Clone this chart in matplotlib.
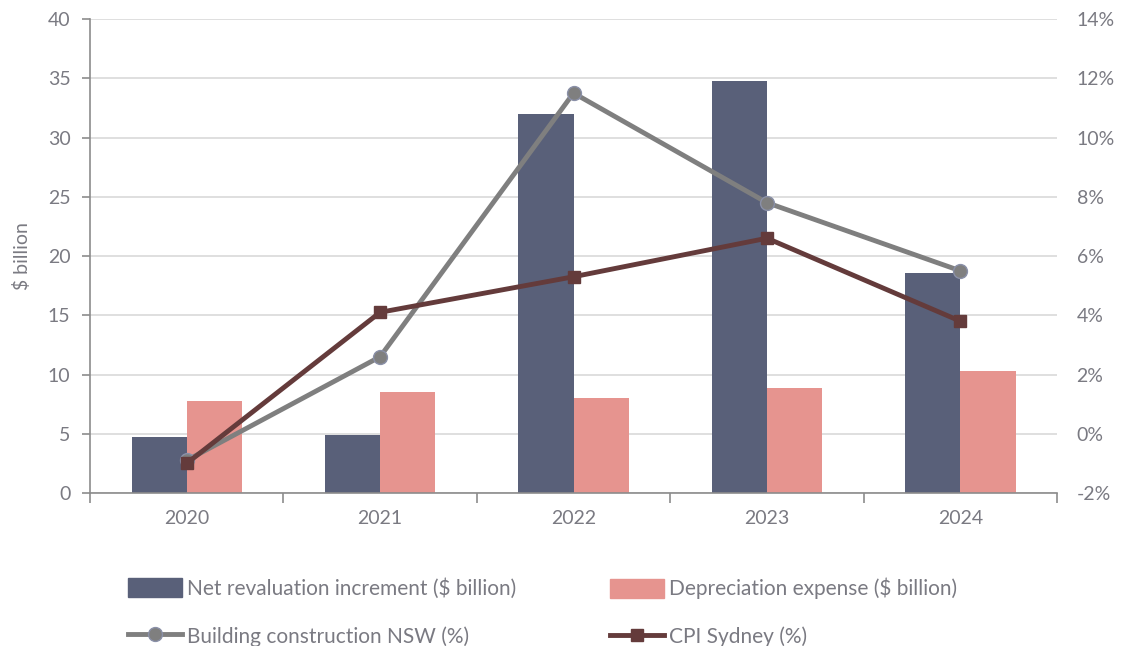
import matplotlib.pyplot as plt
import numpy as np
from matplotlib.lines import Line2D
from matplotlib.patches import Patch

plt.rcParams['font.family'] = ['Lato', 'DejaVu Sans']

years = ["2020", "2021", "2022", "2023", "2024"]
net_revaluation = [4.7, 4.9, 32.0, 34.8, 18.6]
depreciation = [7.8, 8.5, 8.0, 8.9, 10.3]
building_nsw = [-0.9, 2.6, 11.5, 7.8, 5.5]
cpi_sydney = [-1.0, 4.1, 5.3, 6.6, 3.8]

c_net = "#596079"
c_dep = "#e6948f"
c_bld = "#7f7f7f"
c_cpi = "#643b3b"
c_txt = "#7a7a82"
c_axis = "#8c8c8c"

fig = plt.figure(figsize=(11.33, 6.46), dpi=100)
ax = fig.add_axes([0.0794, 0.2368, 0.8536, 0.7338])
x = np.arange(len(years))
w = 0.285

ax.bar(x - w / 2, net_revaluation, w, color=c_net, zorder=2)
ax.bar(x + w / 2, depreciation, w, color=c_dep, zorder=2)

ax.set_xlim(-0.5, len(years) - 0.5)
ax.set_ylim(0, 40)
ax.set_yticks(range(0, 41, 5))
ax.grid(axis='y', color="#d9d9d9", linewidth=1.2, zorder=0)
ax.set_axisbelow(True)
ax.set_xticks(x)
ax.set_xticklabels(years)
ax.tick_params(axis='x', length=0, pad=12, labelsize=14, labelcolor=c_txt)
ax.set_xticks(np.arange(-0.5, len(years), 1), minor=True)
ax.tick_params(axis='x', which='minor', length=7, color=c_axis, width=1.2)
ax.tick_params(axis='y', length=6, color=c_axis, width=1.2, labelsize=14,
               labelcolor=c_txt, pad=8)
for s in ['top', 'right']:
    ax.spines[s].set_visible(False)
for s in ['left', 'bottom']:
    ax.spines[s].set_color(c_axis)
    ax.spines[s].set_linewidth(1.2)
ax.set_ylabel("$ billion", fontsize=14, color=c_txt, labelpad=12)

ax2 = ax.twinx()
ax2.set_ylim(-2, 14)
ax2.set_yticks(range(-2, 15, 2))
ax2.set_yticklabels([f"{v}%" for v in range(-2, 15, 2)])
ax2.tick_params(axis='y', length=0, labelsize=14, labelcolor=c_txt, pad=14)
for s in ax2.spines.values():
    s.set_visible(False)

ax2.plot(x, building_nsw, color=c_bld, linewidth=3.5, marker='o', markersize=10,
         markerfacecolor=c_bld, markeredgecolor="#8a90a8", markeredgewidth=1,
         zorder=3)
ax2.plot(x, cpi_sydney, color=c_cpi, linewidth=3.5, marker='s', markersize=9,
         markerfacecolor=c_cpi, markeredgecolor=c_cpi, zorder=4)

col1 = [
    Patch(color=c_net, label="Net revaluation increment ($ billion)"),
    Line2D([], [], color=c_bld, lw=3.5, marker='o', ms=10, markeredgecolor="#8a90a8",
           label="Building construction NSW (%)"),
]
col2 = [
    Patch(color=c_dep, label="Depreciation expense ($ billion)"),
    Line2D([], [], color=c_cpi, lw=3.5, marker='s', ms=9,
           label="CPI Sydney (%)"),
]
common = dict(loc='center left', frameon=False, fontsize=15, labelcolor=c_txt,
              handlelength=2.6, handleheight=1.0, handletextpad=0.25,
              labelspacing=1.3, borderpad=0, borderaxespad=0)
leg1 = fig.legend(handles=col1, bbox_to_anchor=(0.113, 0.052), **common)
leg2 = fig.legend(handles=col2, bbox_to_anchor=(0.538, 0.052), **common)

fig.savefig("out.png", dpi=100)
